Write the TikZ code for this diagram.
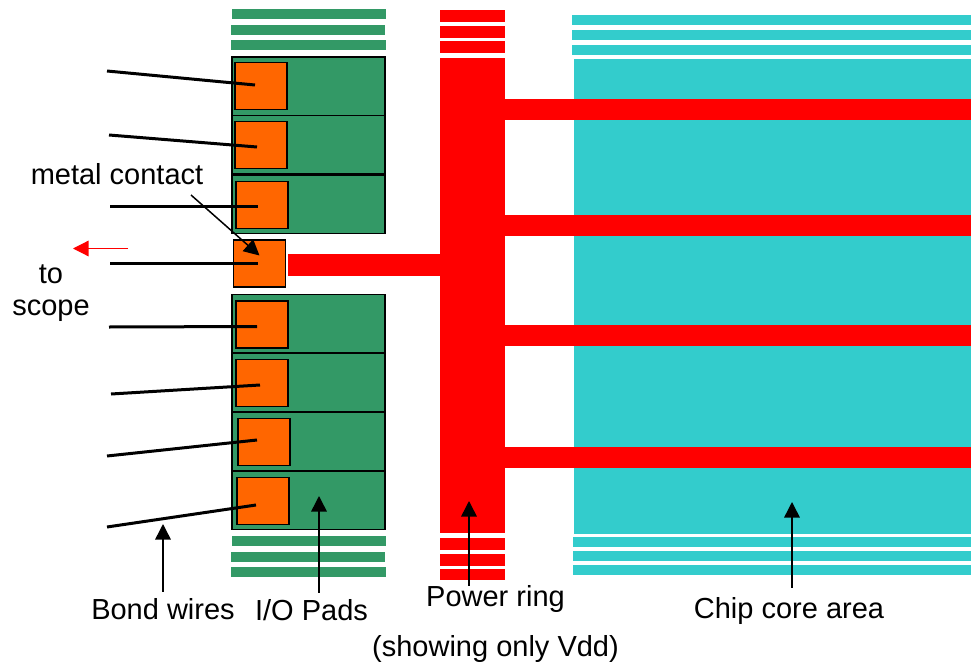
\documentclass[tikz,border=0pt]{standalone}
\usepackage{fontspec}
\setmainfont{Liberation Sans}
\usepackage{xcolor}
\usetikzlibrary{arrows.meta,calc}
\definecolor{padgreen}{HTML}{339966}
\definecolor{contactorange}{HTML}{FF6600}
\definecolor{corecyan}{HTML}{33CCCC}
\definecolor{ringred}{HTML}{FF0000}

\begin{document}
\begin{tikzpicture}[
  x=1pt, y=-1pt,
  font=\fontsize{29}{34}\selectfont,
  bar/.style={anchor=north west, inner sep=0pt, outer sep=0pt, minimum height=10pt},
  padstrip/.style={bar, fill=padgreen, minimum width=154pt},
  ringstrip/.style={bar, fill=ringred, minimum width=65pt, minimum height=12pt},
  corestrip/.style={bar, fill=corecyan, minimum width=399pt},
  strap/.style={bar, fill=ringred, minimum width=466pt, minimum height=21pt},
  pad/.style={bar, draw=black, line width=1.6pt, fill=padgreen, minimum width=153pt, minimum height=58.5pt},
  contact/.style={bar, draw=black, line width=1.6pt, fill=contactorange, minimum width=52pt, minimum height=47pt},
  label/.style={anchor=base, inner sep=0pt, text=black},
  wire/.style={line width=3pt, black},
  pointer/.style={-{Triangle[length=15.5pt,width=15.5pt]}, line width=1.5pt, black}
]
  \useasboundingbox (0,0) rectangle (971,661);

  % chip core
  \node[bar, fill=corecyan, minimum width=397pt, minimum height=475pt] (core) at (574,59) {};
  \node[corestrip] (corestripa) at (572,15) {};
  \node[corestrip] (corestripb) at (572,30) {};
  \node[corestrip] (corestripc) at (572,45) {};
  \node[corestrip] (corestripd) at (573,537) {};
  \node[corestrip] (corestripe) at (573,551) {};
  \node[corestrip] (corestripf) at (573,565) {};

  % power ring
  \node[bar, fill=ringred, minimum width=65pt, minimum height=475pt] (ring) at (440,58) {};
  \node[ringstrip] (ringstripa) at (440,10) {};
  \node[ringstrip] (ringstripb) at (440,26.5) {};
  \node[ringstrip] (ringstripc) at (440,41) {};
  \node[ringstrip] (ringstripd) at (440,538) {};
  \node[ringstrip] (ringstripe) at (440,554) {};
  \node[ringstrip, minimum height=11pt] (ringstripf) at (440,569) {};
  \node[strap] (strapa) at (505,99) {};
  \node[strap] (strapb) at (505,215) {};
  \node[strap] (strapc) at (505,325) {};
  \node[strap] (strapd) at (505,447) {};
  \node[strap, minimum width=152pt, minimum height=22pt] (strape) at (288,254) {};

  % i/o pads
  \node[padstrip] (padstripa) at (232,9) {};
  \node[padstrip] (padstripb) at (231,25) {};
  \node[padstrip, minimum width=155pt] (padstripc) at (231,40) {};
  \node[padstrip] (padstripd) at (232,536) {};
  \node[padstrip] (padstripe) at (231,552) {};
  \node[padstrip, minimum width=155pt] (padstripf) at (231,567) {};
  \node[pad] (pada) at (232,57) {};
  \node[pad] (padb) at (232,115.5) {};
  \node[pad] (padc) at (232,175) {};
  \node[pad] (padd) at (232,294.5) {};
  \node[pad] (pade) at (232,353) {};
  \node[pad] (padf) at (232,412) {};
  \node[pad] (padg) at (232,471) {};

  % metal contacts
  \node[contact] (contacta) at (235,62.5) {};
  \node[contact] (contactb) at (235,121.5) {};
  \node[contact] (contactc) at (236,181.5) {};
  \node[contact] (contactd) at (233.5,240) {};
  \node[contact] (contacte) at (236,301) {};
  \node[contact] (contactf) at (236,359.5) {};
  \node[contact] (contactg) at (238,418.5) {};
  \node[contact] (contacth) at (237,477.5) {};

  % bond wires
  \coordinate (wirea) at (107,71);
  \coordinate (wireb) at (109,135);
  \coordinate (wirec) at (110,206);
  \coordinate (wired) at (110,263.5);
  \coordinate (wiree) at (109,327);
  \coordinate (wiref) at (111,394);
  \coordinate (wireg) at (107,456);
  \coordinate (wireh) at (107,527);
  \draw[wire] (wirea) -- ($(contacta.center)+(-6,-1)$);
  \draw[wire] (wireb) -- ($(contactb.center)+(-4,2)$);
  \draw[wire] (wirec) -- ($(contactc.center)+(-4,1)$);
  \draw[wire] (wired) -- ($(contactd.center)+(-2,0)$);
  \draw[wire] (wiree) -- ($(contacte.center)+(-5,2)$);
  \draw[wire] (wiref) -- ($(contactf.center)+(-2,2)$);
  \draw[wire] (wireg) -- ($(contactg.center)+(-7,-2)$);
  \draw[wire] (wireh) -- ($(contacth.center)+(-7,4)$);

  % labels
  \node[label] (metallabel) at (117,184) {metal contact};
  \node[label] (tolabel) at (51,283) {to};
  \node[label] (scopelabel) at (51,315) {scope};
  \node[label] (bondlabel) at (163,619) {Bond wires};
  \node[label] (iolabel) at (311.5,620) {I/O Pads};
  \node[label] (powerlabel) at (495.5,606) {Power ring};
  \node[label] (vddlabel) at (495.5,656) {(showing only Vdd)};
  \node[label] (chiplabel) at (789,618) {Chip core area};

  % pointers
  \coordinate (metaltail) at (191,195);
  \coordinate (scopetail) at (128,248.5);
  \coordinate (scopetip) at (73,248.5);
  \coordinate (bondtip) at (163,524);
  \coordinate (iotip) at (319,496);
  \coordinate (powertip) at (469,501);
  \coordinate (chiptip) at (792,502);
  \draw[pointer] (metaltail) -- ($(contactd.center)+(0,-8)$);
  \draw[pointer, ringred, line width=1.2pt] (scopetail) -- (scopetip);
  \draw[pointer] ($(bondlabel.north)+(0,-6)$) -- (bondtip);
  \draw[pointer] ($(iolabel.north -| iotip)+(0,-6)$) -- (iotip);
  \draw[pointer] ($(powerlabel.north -| powertip)+(0,1)$) -- (powertip);
  \draw[pointer] ($(chiplabel.north -| chiptip)+(0,-9)$) -- (chiptip);
\end{tikzpicture}
\end{document}
